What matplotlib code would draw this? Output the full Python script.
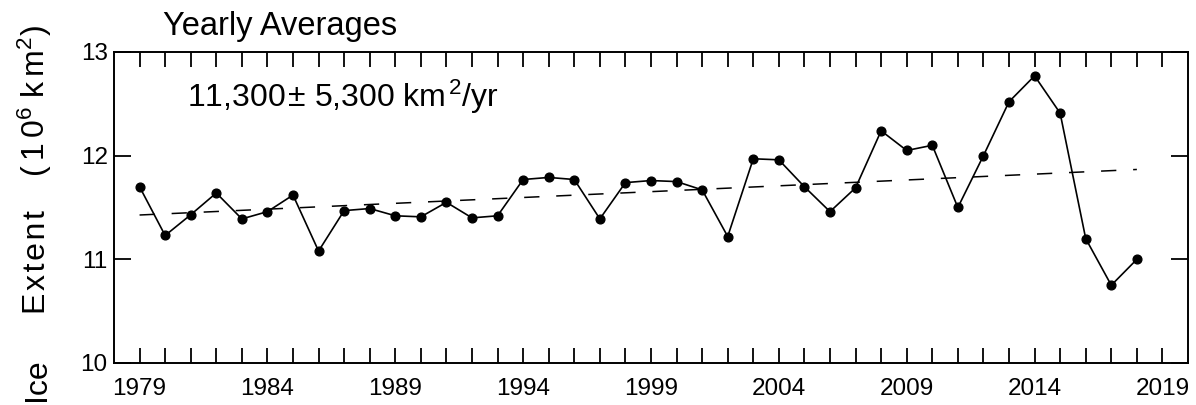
import numpy as np
import matplotlib
matplotlib.use("Agg")
import matplotlib.pyplot as plt

plt.rcParams['font.family'] = ['Liberation Sans', 'DejaVu Sans']
plt.rcParams['mathtext.default'] = 'regular'

# Yearly average sea ice extent (10^6 km^2)
years = list(range(1979, 2019))
extent = [11.70, 11.23, 11.43, 11.64, 11.39, 11.46, 11.62, 11.08, 11.47, 11.49,
          11.42, 11.41, 11.55, 11.40, 11.42, 11.77, 11.79, 11.77, 11.39, 11.74,
          11.76, 11.75, 11.67, 11.22, 11.97, 11.96, 11.70, 11.46, 11.69, 12.24,
          12.05, 12.10, 11.50, 12.00, 12.52, 12.77, 12.41, 11.20, 10.75, 11.00]
xtick_years = [1979, 1984, 1989, 1994, 1999, 2004, 2009, 2014, 2019]
yticks = [10, 11, 12, 13]
trend_label = "11,300\u200a\u00b1 5,300 km\u200a$^{2}$/yr"

W, H = 1196, 405
fig = plt.figure(figsize=(W / 100, H / 100), dpi=100)
ax = fig.add_axes([114 / W, 1 - 363 / H, (1188 - 114) / W, (363 - 52) / H])

# linear trend over the record
coef = np.polyfit(years, extent, 1)
ax.plot([years[0], years[-1]], np.polyval(coef, [years[0], years[-1]]),
        color='black', lw=1.1, linestyle=(0, (10, 11)))

ax.plot(years, extent, color='black', lw=1.2, marker='o', markersize=6.3)

ax.set_xlim(1978, 2020)
ax.set_ylim(10, 13)
ax.set_xticks(range(1979, 2020))
ax.set_xticklabels([str(y) if y in xtick_years else '' for y in range(1979, 2020)])
ax.set_yticks(yticks)
ax.tick_params(axis='both', direction='in', top=True, right=True,
               width=1.3, labelsize=17.5)
ax.tick_params(axis='x', length=11, pad=11)
ax.tick_params(axis='y', length=12, pad=4.5)
for s in ax.spines.values():
    s.set_linewidth(1.4)

fig.text(187 / W, 1 - 107 / H, trend_label, fontsize=23,
         va='baseline', ha='left')
fig.text(163 / W, 1 - 35 / H, "Yearly Averages", fontsize=23.5,
         va='baseline', ha='left')

# axis label, written in three spaced-out pieces
hs = "\u200a"
ylab_parts = [("Ice", 380),
              ("Extent".replace("", hs).strip(hs), 262),
              ("(" + hs * 2 + "1" + hs * 2 + "0$^{6}$ k" + hs * 2 + "m$^{2}$)", 101)]
for txt, yc in ylab_parts:
    fig.text(45 / W, 1 - yc / H, txt, rotation=90, rotation_mode='anchor',
             fontsize=23, va='baseline', ha='center')

fig.savefig("out.png", dpi=100)
